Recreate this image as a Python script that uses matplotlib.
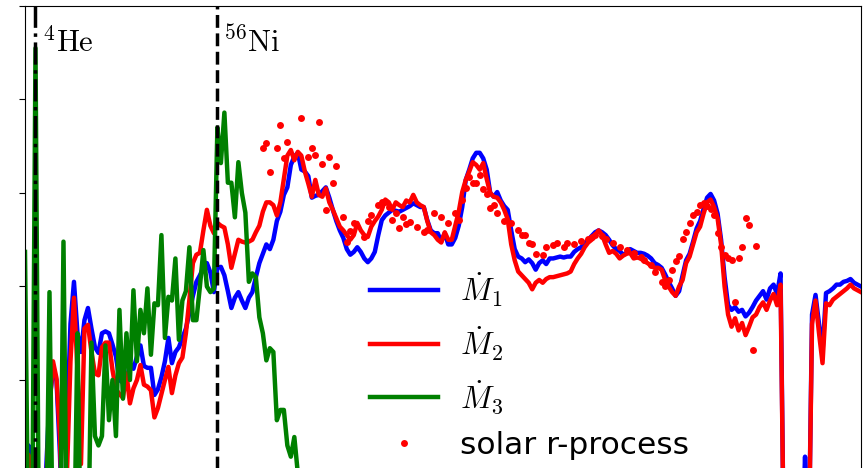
import numpy as np
import matplotlib.pyplot as plt

plt.rcParams['mathtext.fontset'] = 'cm'

# mass number A and log10 of the mass-flow abundances
mass = np.arange(1, 241)
mdot1_log = [
    -6, -4.7, -6, -6, -6, -6, -5.0, -4.2, -3.92, -4.0,
    -4.8, -6, -4.5, -3.4, -2.95, -3.5, -3.7, -3.36, -3.23, -3.45,
    -3.65, -3.71, -3.5, -3.48, -3.5, -3.62, -3.75, -4.0, -4.03, -4.02,
    -3.82, -3.88, -3.75, -3.63, -3.85, -3.87, -3.87, -4.16, -4.1, -3.97,
    -3.8, -3.55, -3.82, -3.7, -3.65, -3.55, -3.45, -3.28, -3.1, -2.95,
    -2.88, -2.8, -2.75, -2.85, -3.06, -2.8, -2.79, -2.88, -3.05, -3.23,
    -3.12, -3.06, -3.15, -3.23, -3.12, -3.06, -2.9, -2.75, -2.65, -2.55,
    -2.6, -2.5, -2.3, -2.2, -2.02, -1.94, -1.7, -1.61, -1.57, -1.75,
    -1.77, -1.82, -2.05, -2.03, -2.02, -1.98, -1.94, -2.05, -2.18, -2.3,
    -2.4, -2.48, -2.6, -2.66, -2.63, -2.58, -2.63, -2.7, -2.74, -2.7,
    -2.63, -2.45, -2.29, -2.24, -2.21, -2.18, -2.19, -2.2, -2.18, -2.16,
    -2.14, -2.11, -2.13, -2.15, -2.15, -2.29, -2.4, -2.43, -2.43, -2.52,
    -2.43, -2.55, -2.55, -2.48, -2.35, -2.15, -1.86, -1.75, -1.63, -1.57,
    -1.57, -1.63, -1.75, -2.0, -2.04, -1.99, -2.08, -2.14, -2.18, -2.4,
    -2.6, -2.68, -2.7, -2.74, -2.71, -2.75, -2.82, -2.75, -2.72, -2.76,
    -2.7, -2.7, -2.69, -2.68, -2.69, -2.68, -2.68, -2.63, -2.6, -2.58,
    -2.54, -2.5, -2.46, -2.42, -2.4, -2.42, -2.45, -2.5, -2.56, -2.6,
    -2.62, -2.66, -2.64, -2.6, -2.62, -2.64, -2.64, -2.65, -2.67, -2.7,
    -2.75, -2.77, -2.8, -2.87, -2.95, -3.02, -3.1, -3.05, -2.88, -2.72,
    -2.65, -2.52, -2.38, -2.3, -2.17, -2.05, -2.01, -2.08, -2.22, -2.5,
    -2.9, -3.2, -3.25, -3.22, -3.27, -3.25, -3.32, -3.28, -3.22, -3.15,
    -3.1, -3.05, -3.14, -3.02, -2.98, -3.08, -2.86, -6, -6, -6,
    -6, -6, -6, -4.82, -6, -3.3, -3.09, -3.4, -3.7, -3.07,
    -3.05, -3.02, -2.98, -2.98, -2.95, -2.94, -2.92, -2.96, -2.98, -3.0,
]
mdot2_log = [
    -6, -4.8, -6, -6, -6, -6, -5.2, -4.3, -3.8, -3.98,
    -4.6, -6, -5.0, -3.8, -3.12, -3.9, -4.9, -3.45, -3.41, -3.7,
    -3.93, -3.95, -3.65, -3.6, -3.6, -3.89, -4.1, -4.15, -4.19, -3.93,
    -4.25, -4.09, -4.0, -3.84, -4.05, -4.07, -4.11, -4.4, -4.3, -4.15,
    -4.0, -3.86, -4.14, -3.95, -3.82, -3.76, -3.5, -3.14, -2.75, -2.66,
    -2.64, -2.4, -2.18, -2.35, -2.43, -2.32, -2.35, -2.37, -2.55, -2.8,
    -2.65, -2.5, -2.52, -2.53, -2.52, -2.5, -2.42, -2.35, -2.2, -2.1,
    -2.1, -2.13, -2.24, -2.1, -1.85, -1.6, -1.54, -1.65, -1.56, -1.6,
    -1.77, -1.9, -2.04, -1.86, -2.02, -2.04, -1.95, -2.1, -2.18, -2.27,
    -2.36, -2.4, -2.45, -2.5, -2.45, -2.32, -2.4, -2.45, -2.47, -2.36,
    -2.3, -2.25, -2.18, -2.07, -2.1, -2.18, -2.1, -2.13, -2.15, -2.08,
    -2.1, -2.02, -2.1, -2.13, -2.15, -2.3, -2.42, -2.45, -2.5, -2.53,
    -2.42, -2.5, -2.5, -2.35, -2.2, -1.99, -1.86, -1.77, -1.67, -1.7,
    -1.75, -1.68, -1.85, -2.0, -2.04, -2.05, -2.1, -2.18, -2.28, -2.55,
    -2.72, -2.84, -2.88, -2.92, -2.96, -3.03, -2.96, -2.93, -2.96, -2.92,
    -2.9, -2.9, -2.89, -2.88, -2.87, -2.86, -2.84, -2.76, -2.7, -2.65,
    -2.58, -2.53, -2.5, -2.45, -2.4, -2.45, -2.55, -2.64, -2.62, -2.65,
    -2.7, -2.67, -2.65, -2.64, -2.7, -2.69, -2.7, -2.73, -2.75, -2.78,
    -2.8, -2.8, -2.82, -2.93, -3.0, -3.06, -3.1, -3.0, -2.93, -2.75,
    -2.68, -2.55, -2.42, -2.36, -2.22, -2.1, -2.07, -2.15, -2.27, -2.55,
    -3.0, -3.3, -3.43, -3.34, -3.47, -3.39, -3.52, -3.43, -3.33, -3.3,
    -3.22, -3.17, -3.25, -3.15, -3.08, -3.2, -2.98, -6, -6, -6,
    -6, -6, -6, -4.97, -6, -3.4, -3.15, -3.5, -3.82, -3.18,
    -3.2, -3.14, -3.11, -3.08, -3.05, -3.02, -2.98, -3.02, -3.04, -3.06,
]
mass3 = np.arange(1, 86)
mdot3_log = [
    -2.63, -6, -6, -0.45, -6, -6, -6, -3.06, -6, -6,
    -6, -2.52, -6, -6, -6, -3.5, -6, -6, -6, -3.6,
    -4.6, -4.7, -4.6, -3.63, -4.43, -4.0, -4.6, -3.25, -4.2, -3.5,
    -4.0, -3.04, -3.8, -3.25, -3.5, -3.02, -3.73, -3.18, -3.2, -2.45,
    -3.55, -3.11, -3.15, -2.7, -3.57, -3.15, -3.05, -2.58, -3.36, -3.36,
    -3.0, -2.61, -3.0, -3.06, -3.02, -1.3, -1.68, -1.14, -1.89, -1.89,
    -2.26, -1.67, -2.0, -2.21, -2.95, -2.86, -2.9, -3.33, -3.5, -3.79,
    -3.66, -3.7, -4.43, -4.32, -4.32, -4.7, -4.82, -4.61, -5.0, -5.3,
    -5.5, -5.7, -5.8, -5.9, -6.0,
]

# solar r-process pattern
solar_mass = [
    69, 70, 71, 73, 74, 75, 76, 80, 82, 83, 84, 85, 86, 87, 88, 89, 90,
    92, 93, 94, 95, 98, 99, 100, 102, 103, 104, 105, 106, 107, 108, 109,
    110, 111, 113, 115, 116, 118, 120, 122, 124, 125, 126, 127, 128, 129,
    130, 131, 132, 133, 134, 135, 136, 138, 140, 142, 143, 144, 145, 146,
    147, 149, 150, 152, 153, 155, 156, 158, 160, 162, 163, 164, 166, 167,
    169, 171, 173, 175, 177, 178, 180, 181, 183, 184, 185, 186, 187, 188,
    189, 190, 191, 192, 193, 194, 195, 196, 197, 198, 199, 200, 201, 202,
    203, 204, 205, 206, 207, 208, 209, 210,
]
solar_log = [
    -1.52, -1.47, -1.78, -1.52, -1.27, -1.63, -1.45, -1.2, -1.61, -1.52,
    -1.59, -1.24, -1.69, -2.18, -1.61, -1.89, -1.71,
    -2.26, -2.52, -2.41, -2.32, -2.47, -2.3, -2.24, -2.13, -2.1, -2.1,
    -2.15, -2.29, -2.21, -2.37, -2.26,
    -2.33, -2.31, -2.36, -2.42, -2.4, -2.21, -2.26, -2.32, -2.21, -2.29,
    -2.07, -1.95, -1.83, -1.89,
    -1.89, -1.81, -1.96, -2.01, -2.16, -2.13, -2.21, -2.3, -2.32, -2.4,
    -2.45, -2.45, -2.54, -2.55,
    -2.65, -2.66, -2.58, -2.56, -2.53, -2.58, -2.53, -2.55, -2.51, -2.49,
    -2.47, -2.45, -2.46, -2.49,
    -2.53, -2.58, -2.61, -2.64, -2.68, -2.72, -2.77, -2.85, -2.95, -3.0,
    -2.93, -2.82, -2.73, -2.67,
    -2.49, -2.42, -2.32, -2.24, -2.2, -2.13, -2.11, -2.14, -2.17, -2.23,
    -2.43, -2.58, -2.66, -2.7,
    -2.72, -3.17, -2.7, -2.58, -2.27, -2.34, -3.68, -2.57,
]

fig = plt.figure(figsize=(8.64, 4.68), dpi=100)
# axes run past the bottom of the figure, as in the cropped original
ax = fig.add_axes([25 / 864, 1 - 6 / 468 - 561 / 468, 836 / 864, 561 / 468])

ax.plot(mass, 10 ** np.array(mdot1_log), color='b', lw=3.2, label=r'$\dot{M}_1$')
ax.plot(mass, 10 ** np.array(mdot2_log), color='r', lw=3.2, label=r'$\dot{M}_2$')
ax.plot(mass3, 10 ** np.array(mdot3_log), color='g', lw=3.2, label=r'$\dot{M}_3$')
ax.plot(solar_mass, 10 ** np.array(solar_log), 'o', color='r', ms=5, mew=0,
        label='solar r-process')

ax.axvline(4, color='k', ls='-.', lw=2.5)
ax.axvline(56, color='k', ls='--', lw=2.5)
trans = ax.get_xaxis_transform()
ax.text(6, 0.918, r'$^{4}\mathrm{He}$', transform=trans, fontsize=22, va='baseline')
ax.text(57.5, 0.918, r'$^{56}\mathrm{Ni}$', transform=trans, fontsize=22, va='baseline')

ax.set_yscale('log')
ax.set_xlim(1, 240)
ax.set_ylim(1e-6, 1)
ax.minorticks_off()
ax.tick_params(axis='y', direction='out', length=4, labelleft=False)
ax.tick_params(axis='x', labelbottom=False, length=0)

ax.legend(loc='upper left', bbox_to_anchor=(357 / 864, 1 - 258 / 468),
          bbox_transform=fig.transFigure, frameon=False, fontsize=22.5,
          handlelength=2.18, handletextpad=0.7, numpoints=1, borderaxespad=0)

fig.savefig('out.png', dpi=100)
